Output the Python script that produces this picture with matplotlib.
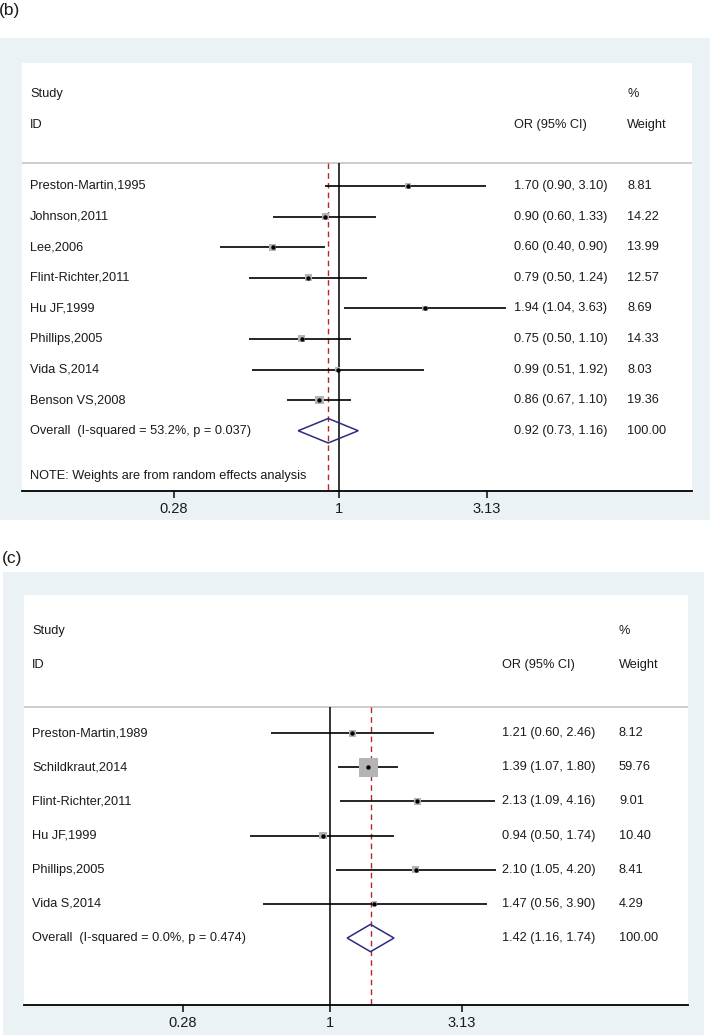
import numpy as np
import matplotlib
matplotlib.use('Agg')
import matplotlib.pyplot as plt
from matplotlib.patches import Rectangle

plt.rcParams['font.family'] = ['Liberation Sans', 'DejaVu Sans']

# ---- panel (b) ----
b_studies = ['Preston-Martin,1995', 'Johnson,2011', 'Lee,2006', 'Flint-Richter,2011',
             'Hu JF,1999', 'Phillips,2005', 'Vida S,2014', 'Benson VS,2008']
b_or = [1.70, 0.90, 0.60, 0.79, 1.94, 0.75, 0.99, 0.86]
b_lo = [0.90, 0.60, 0.40, 0.50, 1.04, 0.50, 0.51, 0.67]
b_hi = [3.10, 1.33, 0.90, 1.24, 3.63, 1.10, 1.92, 1.10]
b_w = [8.81, 14.22, 13.99, 12.57, 8.69, 14.33, 8.03, 19.36]
b_overall = (0.92, 0.73, 1.16)
b_overall_label = 'Overall  (I-squared = 53.2%, p = 0.037)'

# ---- panel (c) ----
c_studies = ['Preston-Martin,1989', 'Schildkraut,2014', 'Flint-Richter,2011',
             'Hu JF,1999', 'Phillips,2005', 'Vida S,2014']
c_or = [1.21, 1.39, 2.13, 0.94, 2.10, 1.47]
c_lo = [0.60, 1.07, 1.09, 0.50, 1.05, 0.56]
c_hi = [2.46, 1.80, 4.16, 1.74, 4.20, 3.90]
c_w = [8.12, 59.76, 9.01, 10.40, 8.41, 4.29]
c_overall = (1.42, 1.16, 1.74)
c_overall_label = 'Overall  (I-squared = 0.0%, p = 0.474)'

ticks = [0.28, 1, 3.13]
tick_labels = ['0.28', '1', '3.13']

W, H = 710, 1035
BG = '#eaf2f6'
RED = '#b8242c'
NAVY = '#2b2b80'
BOX = '#b4b4b4'
TXT = '#1a1a1a'

fig = plt.figure(figsize=(W / 100, H / 100), dpi=100)


def px_axes(x0, y0, x1, y1):
    # pixel box (top-left origin) -> figure fraction
    return [x0 / W, 1 - y1 / H, (x1 - x0) / W, (y1 - y0) / H]


def bg_rect(x0, y0, x1, y1):
    fig.patches.append(Rectangle((x0 / W, 1 - y1 / H), (x1 - x0) / W, (y1 - y0) / H,
                                 transform=fig.transFigure, facecolor=BG,
                                 edgecolor='none', zorder=-10))


def forest(box, xlim, ylim, studies, est, lo, hi, wts, overall, overall_label,
           cols, box_k, note=None):
    ax = fig.add_axes(px_axes(*box))
    ax.set_zorder(5)
    ax.set_facecolor('white')
    ax.set_xscale('log')
    ax.set_xlim(*xlim)
    ax.set_ylim(*ylim)
    for s in ['top', 'left', 'right']:
        ax.spines[s].set_visible(False)
    ax.spines['bottom'].set_linewidth(1.3)
    ax.set_yticks([])
    ax.set_xticks(ticks)
    ax.set_xticklabels(tick_labels, fontsize=10.5)
    ax.xaxis.set_minor_locator(matplotlib.ticker.NullLocator())
    ax.tick_params(axis='x', length=5, width=1.2, pad=3, colors=TXT)

    tr_x = matplotlib.transforms.blended_transform_factory(ax.transAxes, ax.transData)
    fs = 9.2
    x_id, x_or, x_wt = cols

    # header
    ax.text(x_id, -3, 'Study', transform=tr_x, fontsize=fs, va='center', color=TXT)
    ax.text(x_id, -2, 'ID', transform=tr_x, fontsize=fs, va='center', color=TXT)
    ax.text(x_wt, -3, '%', transform=tr_x, fontsize=fs, va='center', color=TXT)
    ax.text(x_wt, -2, 'Weight', transform=tr_x, fontsize=fs, va='center', color=TXT)
    ax.text(x_or, -2, 'OR (95% CI)', transform=tr_x, fontsize=fs, va='center', color=TXT)
    ax.axhline(-0.76, color='#c9c9c9', lw=1.3)

    # reference lines
    ax.vlines(1, -0.76, ylim[0], color='black', lw=1.1, zorder=2)
    ax.vlines(overall[0], -0.76, ylim[0], color=RED, lw=1.0, linestyles=(0, (4, 3)), zorder=2)

    ys = np.arange(len(studies))
    sizes = [(box_k * np.sqrt(w) / (100 / 72)) ** 2 for w in wts]
    ax.hlines(ys, lo, hi, color='black', lw=1.2, zorder=3)
    ax.scatter(est, ys, marker='s', s=sizes, color=BOX, linewidths=0, zorder=3)
    ax.scatter(est, ys, marker='o', s=10, color='black', linewidths=0, zorder=4)

    for i, name in enumerate(studies):
        ax.text(x_id, i, name, transform=tr_x, fontsize=fs, va='center', color=TXT)
        ax.text(x_or, i, f'{est[i]:.2f} ({lo[i]:.2f}, {hi[i]:.2f})', transform=tr_x,
                fontsize=fs, va='center', color=TXT)
        ax.text(x_wt, i, f'{wts[i]:.2f}', transform=tr_x, fontsize=fs, va='center', color=TXT)

    yo = len(studies)
    e, l, h = overall
    dh = 0.4
    ax.fill([l, e, h, e, l], [yo, yo - dh, yo, yo + dh, yo], facecolor='none',
            edgecolor=NAVY, lw=1.1, zorder=4)
    ax.text(x_id, yo, overall_label, transform=tr_x, fontsize=fs, va='center', color=TXT)
    ax.text(x_or, yo, f'{e:.2f} ({l:.2f}, {h:.2f})', transform=tr_x,
            fontsize=fs, va='center', color=TXT)
    ax.text(x_wt, yo, '100.00', transform=tr_x, fontsize=fs, va='center', color=TXT)
    if note:
        ax.text(x_id, note[0], note[1], transform=tr_x, fontsize=fs, va='center', color=TXT)
    return ax


# panel (b)
bg_rect(0, 38, 710, 520)
fig.text(-1 / W, 1 - 10 / H, '(b)', fontsize=12.5, va='center', ha='left', color=TXT)
forest((22, 63, 692, 491), (np.exp(-317 / 129.6), np.exp(353 / 129.6)), (9.97, -4.02),
       b_studies, b_or, b_lo, b_hi, b_w, b_overall, b_overall_label,
       (0.012, 0.734, 0.903), 1.85,
       note=(9.48, 'NOTE: Weights are from random effects analysis'))

# panel (c)
bg_rect(3, 572, 704, 1035)
fig.text(2 / W, 1 - 558 / H, '(c)', fontsize=12.5, va='center', ha='left', color=TXT)
forest((24, 595, 688, 1005), (np.exp(-306 / 115.5), np.exp(358 / 115.5)), (7.96, -4.04),
       c_studies, c_or, c_lo, c_hi, c_w, c_overall, c_overall_label,
       (0.012, 0.72, 0.896), 2.46)

fig.savefig('out.png', dpi=100, facecolor='white')
